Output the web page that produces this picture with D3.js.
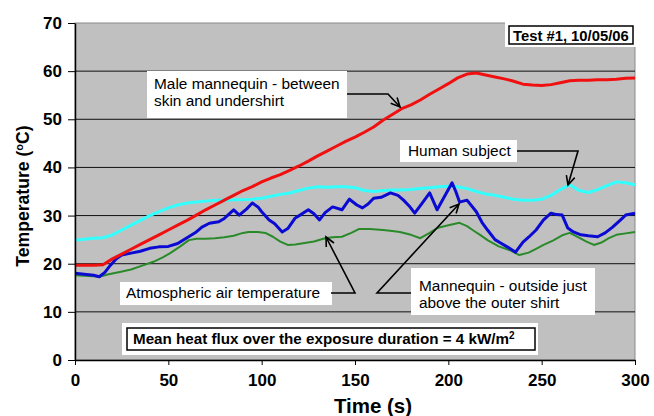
<!DOCTYPE html>
<html>
<head>
<meta charset="utf-8">
<script src="https://cdn.jsdelivr.net/npm/d3@7"></script>
<style>
	body { margin: 0; background: white; }
	text { font-family: "Liberation Sans", Arial, sans-serif; }
</style>
</head>
<body>
<main></main>
<script>

// DATA
const xTicks = [0, 50, 100, 150, 200, 250, 300];
const yTicks = [0, 10, 20, 30, 40, 50, 60, 70];

// male mannequin - between skin and undershirt (red)
const redTime = [0,5,10,15,20,25,30,35,40,45,50,55,60,65,70,75,80,85,90,95,100,105,110,115,120,125,130,135,140,145,150,155,160,165,170,175,180,185,190,195,200,205,210,215,220,225,230,235,240,245,250,255,260,265,270,275,280,285,290,295,300];
const redTemp = [19.7,19.7,19.7,19.8,21,22,23,24,25,26,27,28,29,30.1,31.2,32.2,33.2,34.2,35.2,36,37,37.8,38.5,39.4,40.3,41.3,42.4,43.4,44.4,45.4,46.3,47.3,48.4,49.8,51,52.2,53,54,55.2,56.3,57.4,58.6,59.4,59.6,59.2,58.8,58.4,57.9,57.3,57.1,57,57.2,57.6,58,58.1,58.1,58.2,58.2,58.3,58.5,58.6];

// human subject (cyan)
const cyanTime = [0,5,10,15,20,25,30,35,40,45,50,55,60,65,70,75,80,85,90,95,100,105,110,115,120,125,130,135,140,145,150,155,160,165,170,175,180,185,190,195,200,205,210,215,220,225,230,235,240,245,250,255,260,265,270,275,280,285,290,295,300];
const cyanTemp = [24.9,25.1,25.3,25.4,26,27,28,29,30,30.8,31.6,32.2,32.6,32.8,33,33.2,33.2,33.3,33.3,33.4,33.6,34,34.4,34.7,35.2,35.7,36,35.9,36,36,35.8,35.2,35,35.2,35.3,35.3,35.4,35.6,35.8,36,36.1,36,35.6,35,34.5,34.2,33.8,33.4,33.2,33.2,33.4,34.2,35.4,36.4,35.2,34.8,35.4,36.2,37,36.8,36.4];

// mannequin - outside just above the outer shirt (blue)
const blueTime = [0,5,10,13,16,19,22,25,30,35,40,45,50,55,60,65,68,72,77,80,85,88,92,95,98,100,104,107,111,114,118,121,125,128,131,134,138,143,147,151,154,157,160,164,169,173,176,179,182,186,190,194,198,202,204,206,210,215,218,221,225,228,232,236,240,243,247,251,255,258,261,264,267,271,275,280,284,288,292,295,300];
const blueTemp = [18,17.8,17.6,17.3,18.2,19.7,21,21.8,22.2,22.6,23.2,23.5,23.6,24.2,25.4,26.6,27.6,28.4,28.7,29.4,31.2,30.1,31.4,32.6,31.8,30.8,29.1,28.3,26.6,27.3,29.5,30.2,31.2,30.4,29.1,30.6,31.8,31.2,33.4,32.2,31.6,32.4,33.6,33.8,34.7,34.2,33.2,32,30.5,32.6,34.7,31.2,34,36.8,35,32.8,33.2,30.8,28.6,27,25,24.3,23.4,22.4,24.5,25.5,27,29.1,30.5,30.2,30.1,27.4,26.6,26,25.8,25.6,26.4,27.6,29,30.1,30.5];

// atmospheric air temperature (green)
const greenTime = [0,5,10,13,18,24,30,36,42,47,51,56,61,65,70,75,80,85,90,93,98,102,106,110,114,118,123,128,134,138,143,148,152,158,165,170,174,180,185,190,194,200,206,210,213,217,221,227,233,238,243,247,251,256,261,265,270,274,278,282,286,290,295,300];
const greenTemp = [17.6,17.5,17.4,17.3,17.8,18.3,18.8,19.6,20.4,21.3,22.2,23.5,24.9,25.2,25.2,25.3,25.5,25.8,26.4,26.6,26.6,26.4,25.6,24.6,23.9,24,24.3,24.6,25.3,25.5,25.6,26.4,27.2,27.2,27,26.8,26.6,26,25.3,26.4,27.4,28,28.5,27.8,27,26,24.9,23.6,22.8,21.8,22.3,23.1,23.9,24.8,25.9,26.4,25.4,24.6,23.9,24.4,25.3,26,26.3,26.6];

const series = [
	{ time: greenTime, temp: greenTemp, color: "#2a8a2a", width: 2 },
	{ time: cyanTime, temp: cyanTemp, color: "#33ffff", width: 3 },
	{ time: blueTime, temp: blueTemp, color: "#0a0ad2", width: 3 },
	{ time: redTime, temp: redTemp, color: "#f01010", width: 3 }
];


// CHART
const w = 654;
const h = 416;
const margin = { left: 75, right: 19, top: 23, bottom: 56 };

const svg = d3.select("main").append("svg")
	.attr("width", w)
	.attr("height", h);

const xScale = d3.scaleLinear()
	.domain([0, 300])
	.range([margin.left, w - margin.right]);
const yScale = d3.scaleLinear()
	.domain([0, 70])
	.range([h - margin.bottom, margin.top]);

// plot background
svg.append("rect")
	.attr("x", xScale(0))
	.attr("y", yScale(70))
	.attr("width", xScale(300) - xScale(0))
	.attr("height", yScale(0) - yScale(70))
	.attr("fill", "#c0c0c0")
	.attr("stroke", "#8a8a8a")
	.attr("stroke-width", 1);

// gridlines
svg.selectAll("line.grid")
	.data(yTicks.filter(d => d > 0 && d < 70))
	.enter()
	.append("line")
		.attr("class", "grid")
		.attr("x1", xScale(0))
		.attr("x2", xScale(300))
		.attr("y1", d => yScale(d))
		.attr("y2", d => yScale(d))
		.attr("stroke", "#111")
		.attr("stroke-width", 1);

// series lines
series.forEach(s => {
	const pts = s.time.map((t, i) => [t, s.temp[i]]);
	svg.append("path")
		.datum(pts)
		.attr("fill", "none")
		.attr("stroke", s.color)
		.attr("stroke-width", s.width)
		.attr("stroke-linejoin", "round")
		.attr("d", d3.line().x(d => xScale(d[0])).y(d => yScale(d[1])));
});

// axes
const xAxis = d3.axisBottom(xScale).tickValues(xTicks).tickSize(5).tickSizeOuter(0);
const gx = svg.append("g")
	.attr("transform", `translate(0, ${yScale(0)})`)
	.call(xAxis);
gx.selectAll("text")
	.attr("y", 26)
	.attr("dy", 0)
	.style("font-size", "17px")
	.style("font-weight", "bold")
	.attr("fill", "#000");

const yAxis = d3.axisLeft(yScale).tickValues(yTicks).tickSize(7).tickSizeOuter(0);
const gy = svg.append("g")
	.attr("transform", `translate(${xScale(0)}, 0)`)
	.call(yAxis);
gy.selectAll("text")
	.attr("x", -13)
	.style("font-size", "17px")
	.style("font-weight", "bold")
	.attr("fill", "#000");
svg.selectAll(".domain").attr("stroke", "#000").attr("stroke-width", 1.5);
svg.selectAll(".tick line").attr("stroke", "#000");

// axis titles
svg.append("text")
	.attr("x", 373)
	.attr("y", 413)
	.attr("text-anchor", "middle")
	.style("font-size", "20.5px")
	.style("font-weight", "bold")
	.text("Time (s)");

const yTitle = svg.append("text")
	.attr("transform", "translate(29, 196) rotate(-90)")
	.attr("text-anchor", "middle")
	.style("font-size", "17.6px")
	.style("font-weight", "bold");
yTitle.append("tspan").text("Temperature (");
yTitle.append("tspan").attr("baseline-shift", "super").style("font-size", "11px").text("o");
yTitle.append("tspan").text("C)");


// ANNOTATIONS
const whiteBox = (x, y, bw, bh) => svg.append("rect")
	.attr("x", x).attr("y", y).attr("width", bw).attr("height", bh)
	.attr("fill", "white");

const label = (x, y, lines, bold) => {
	const t = svg.append("text")
		.attr("x", x)
		.attr("y", y)
		.style("font-size", bold ? "15.2px" : "15.4px")
		.style("font-weight", bold ? "bold" : "normal");
	lines.forEach((l, i) => t.append("tspan").attr("x", x).attr("dy", i === 0 ? 0 : 17.5).text(l));
	return t;
};

const arrow = (pts) => {
	svg.append("path")
		.attr("d", d3.line()(pts))
		.attr("fill", "none")
		.attr("stroke", "#000")
		.attr("stroke-width", 1.6);
	// arrowhead at last point
	const [x1, y1] = pts[pts.length - 2];
	const [x2, y2] = pts[pts.length - 1];
	const a = Math.atan2(y2 - y1, x2 - x1);
	const L = 10, spread = 0.45;
	svg.append("path")
		.attr("d", d3.line()([
			[x2 - L * Math.cos(a - spread), y2 - L * Math.sin(a - spread)],
			[x2, y2],
			[x2 - L * Math.cos(a + spread), y2 - L * Math.sin(a + spread)]
		]))
		.attr("fill", "none")
		.attr("stroke", "#000")
		.attr("stroke-width", 1.6);
};

// male mannequin
whiteBox(147, 71, 200, 47);
label(154, 88.5, ["Male mannequin - between", "skin and undershirt"]);
arrow([[347, 94], [388, 94], [400, 107]]);

// human subject
whiteBox(400, 140, 117, 22);
label(408, 156, ["Human subject"]);
arrow([[517, 151], [578, 151], [568, 185]]);

// atmospheric air
whiteBox(120, 282, 212, 23);
label(126, 298, ["Atmospheric air temperature"]);
arrow([[331, 293], [355, 293], [326, 237]]);

// mannequin outside
whiteBox(411, 268, 184, 47);
label(419, 290.5, ["Mannequin - outside just", "above the outer shirt"]);
arrow([[411, 293], [377, 293], [459, 204]]);

// heat flux
whiteBox(122, 323, 416, 32);
svg.append("rect")
	.attr("x", 127).attr("y", 328).attr("width", 408).attr("height", 22)
	.attr("fill", "white").attr("stroke", "#000").attr("stroke-width", 1.5);
const flux = label(133, 344, ["Mean heat flux over the exposure duration = 4 kW/m"], true);
flux.append("tspan").attr("baseline-shift", "super").style("font-size", "10px").text("2");

// test label
whiteBox(505, 22, 131, 25);
svg.append("rect")
	.attr("x", 509).attr("y", 26).attr("width", 124).attr("height", 18)
	.attr("fill", "white").attr("stroke", "#000").attr("stroke-width", 1.5);
label(513, 40.5, ["Test #1, 10/05/06"], true).style("font-size", "14.8px");

</script>
</body>
</html>
